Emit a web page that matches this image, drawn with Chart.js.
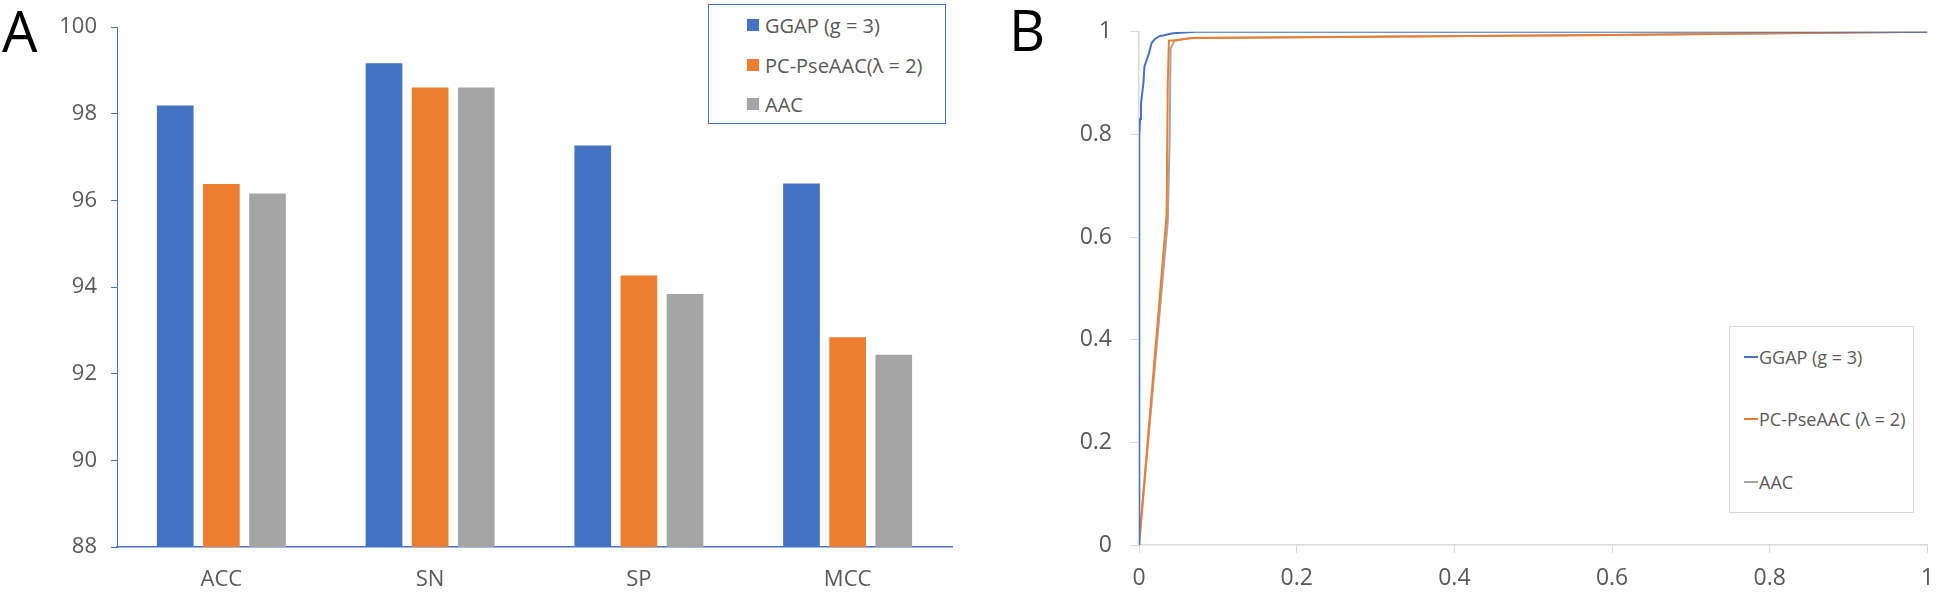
<!DOCTYPE html>
<html>
<head>
<meta charset="utf-8">
<script src="https://cdn.jsdelivr.net/npm/chart.js@4"></script>
<style>
  body { margin: 0; background: #fff; font-family: "Open Sans", sans-serif; }
  #wrap { position: relative; width: 1946px; height: 595px; overflow: hidden; }
  canvas { position: absolute; top: 0; }
  .panel-tag { position: absolute; font-size: 56px; line-height: 56px; color: #000; }
  .legend { position: absolute; background: #fff; box-sizing: border-box; }
  .legend .row { position: absolute; height: 0; color: #595959; white-space: nowrap; }
  .legend .txt { position: absolute; top: 0; transform: translateY(-50%); }
  .legend .mark { position: absolute; }
</style>
</head>
<body>
<div id="wrap">
  <canvas id="chart-a" width="1000" height="595" style="left:0"></canvas>
  <canvas id="chart-b" width="946" height="595" style="left:1000px"></canvas>
  <div class="panel-tag" style="left:2px; top:2px">A</div>
  <div class="panel-tag" style="left:1009px; top:1px">B</div>
  <div id="legend-a" class="legend" style="left:708px; top:4px; width:238px; height:120px; border:1px solid #4472C4"></div>
  <div id="legend-b" class="legend" style="left:1729px; top:326px; width:185px; height:187px; border:1px solid #d9d9d9"></div>
</div>
<script>
// ---- data : panel A (bar chart) ----
var CATEGORIES = ["ACC", "SN", "SP", "MCC"];
var GGAP_VALUES = [98.19, 99.17, 97.27, 96.39];
var PSEAAC_VALUES = [96.38, 98.61, 94.27, 92.84];
var AAC_VALUES = [96.16, 98.61, 93.84, 92.44];
var BAR_LABELS = ["GGAP (g = 3)", "PC-PseAAC(\u03bb = 2)", "AAC"];

// ---- data : panel B (ROC curves) ----
var GGAP_FPR = [0, 0, 0.0004, 0.0008, 0.0015, 0.0025, 0.004, 0.0056, 0.0069, 0.0086, 0.012, 0.016, 0.0203, 0.0265, 0.0307, 0.043, 0.072, 1];
var GGAP_TPR = [0, 0.55, 0.72, 0.80, 0.83, 0.86, 0.88, 0.90, 0.932, 0.94, 0.955, 0.978, 0.986, 0.992, 0.993, 0.997, 1, 1];
var PSEAAC_FPR = [0, 0.035, 0.0365, 0.038, 0.045, 0.066, 0.6, 1];
var PSEAAC_TPR = [0, 0.644, 0.90, 0.983, 0.983, 0.988, 0.994, 1];
var AAC_FPR = [0, 0.0365, 0.039, 0.040, 0.045, 0.066, 0.6, 1];
var AAC_TPR = [0, 0.63, 0.80, 0.967, 0.983, 0.988, 0.994, 1];
var ROC_LABELS = ["GGAP (g = 3)", "PC-PseAAC (\u03bb = 2)", "AAC"];

var COLORS = ["#4472C4", "#ED7D31", "#A5A5A5"];
var TICK_COLOR = "#595959";

function toPoints(xs, ys) {
  var pts = [];
  for (var i = 0; i < xs.length; i++) pts.push({ x: xs[i], y: ys[i] });
  return pts;
}

/*
  NAME : buildLegend
  ROLE : html legend box, one row per series
*/
function buildLegend(id, labels, rows, kind) {
  var box = document.getElementById(id);
  for (var i = 0; i < labels.length; i++) {
    var row = document.createElement("div");
    row.className = "row";
    row.style.top = rows.top[i] + "px";
    row.style.left = "0px";
    var mark = document.createElement("div");
    mark.className = "mark";
    mark.style.background = COLORS[i];
    if (kind === "box") {
      mark.style.left = rows.markLeft + "px"; mark.style.top = "-6px";
      mark.style.width = "12px"; mark.style.height = "12px";
    } else {
      mark.style.left = rows.markLeft + "px"; mark.style.top = "-1px";
      mark.style.width = "14px"; mark.style.height = "2px";
    }
    var txt = document.createElement("div");
    txt.className = "txt";
    txt.style.left = rows.textLeft + "px";
    txt.style.fontSize = rows.fontSize + "px";
    txt.textContent = labels[i];
    row.appendChild(mark);
    row.appendChild(txt);
    box.appendChild(row);
  }
}

Chart.defaults.font.family = "'Open Sans', sans-serif";
Chart.defaults.color = TICK_COLOR;

// Panel A
var barDatasets = [GGAP_VALUES, PSEAAC_VALUES, AAC_VALUES].map(function (vals, i) {
  return {
    label: BAR_LABELS[i],
    data: vals,
    backgroundColor: COLORS[i],
    borderWidth: 0,
    categoryPercentage: 0.663,
    barPercentage: 0.795
  };
});

new Chart(document.getElementById("chart-a"), {
  type: "bar",
  data: { labels: CATEGORIES, datasets: barDatasets },
  options: {
    responsive: false,
    animation: false,
    devicePixelRatio: 1,
    layout: { padding: { left: 0, top: 25, right: 48, bottom: 0 } },
    plugins: { legend: { display: false }, tooltip: { enabled: false } },
    scales: {
      x: {
        grid: { display: false, drawTicks: false },
        border: { display: true, color: "#4472C4", width: 1.5 },
        ticks: { font: { size: 22 }, color: TICK_COLOR, padding: 20 },
        afterFit: function (s) { s.height = 48; }
      },
      y: {
        min: 88, max: 100,
        grid: { drawOnChartArea: false, drawTicks: true, tickLength: 6, color: "#4472C4" },
        border: { display: true, color: "#4472C4", width: 1 },
        ticks: { stepSize: 2, font: { size: 22 }, color: TICK_COLOR, padding: 14 },
        afterFit: function (s) { s.width = 117; }
      }
    }
  }
});

// Panel B
var rocSets = [[GGAP_FPR, GGAP_TPR], [PSEAAC_FPR, PSEAAC_TPR], [AAC_FPR, AAC_TPR]].map(function (s, i) {
  return {
    label: ROC_LABELS[i],
    data: toPoints(s[0], s[1]),
    borderColor: COLORS[i],
    backgroundColor: COLORS[i],
    borderWidth: 2,
    pointRadius: 0,
    showLine: true,
    fill: false,
    tension: 0
  };
});

function fmtTick(v) { return String(+v.toFixed(1)); }

new Chart(document.getElementById("chart-b"), {
  type: "scatter",
  data: { datasets: rocSets },
  options: {
    responsive: false,
    animation: false,
    devicePixelRatio: 1,
    layout: { padding: { left: 0, top: 19, right: 9, bottom: 0 } },
    plugins: { legend: { display: false }, tooltip: { enabled: false } },
    scales: {
      x: {
        type: "linear", min: 0, max: 1,
        grid: { drawOnChartArea: false, drawTicks: true, tickLength: 8, color: "#d9d9d9" },
        border: { display: true, color: "#d9d9d9", width: 1.5 },
        ticks: { stepSize: 0.2, font: { size: 23 }, color: TICK_COLOR, padding: 12, callback: fmtTick },
        afterFit: function (s) { s.height = 50; }
      },
      y: {
        min: 0, max: 1,
        grid: { drawOnChartArea: false, drawTicks: true, tickLength: 9, color: "#d9d9d9" },
        border: { display: true, color: "#d9d9d9", width: 1.5 },
        ticks: { stepSize: 0.2, font: { size: 23 }, color: TICK_COLOR, padding: 18, callback: fmtTick },
        afterFit: function (s) { s.width = 139; }
      }
    }
  }
});

buildLegend("legend-a", BAR_LABELS, { top: [20, 60, 99], markLeft: 38, textLeft: 56, fontSize: 20 }, "box");
buildLegend("legend-b", ROC_LABELS, { top: [30, 92, 155], markLeft: 14, textLeft: 29, fontSize: 18 }, "line");
</script>
</body>
</html>
